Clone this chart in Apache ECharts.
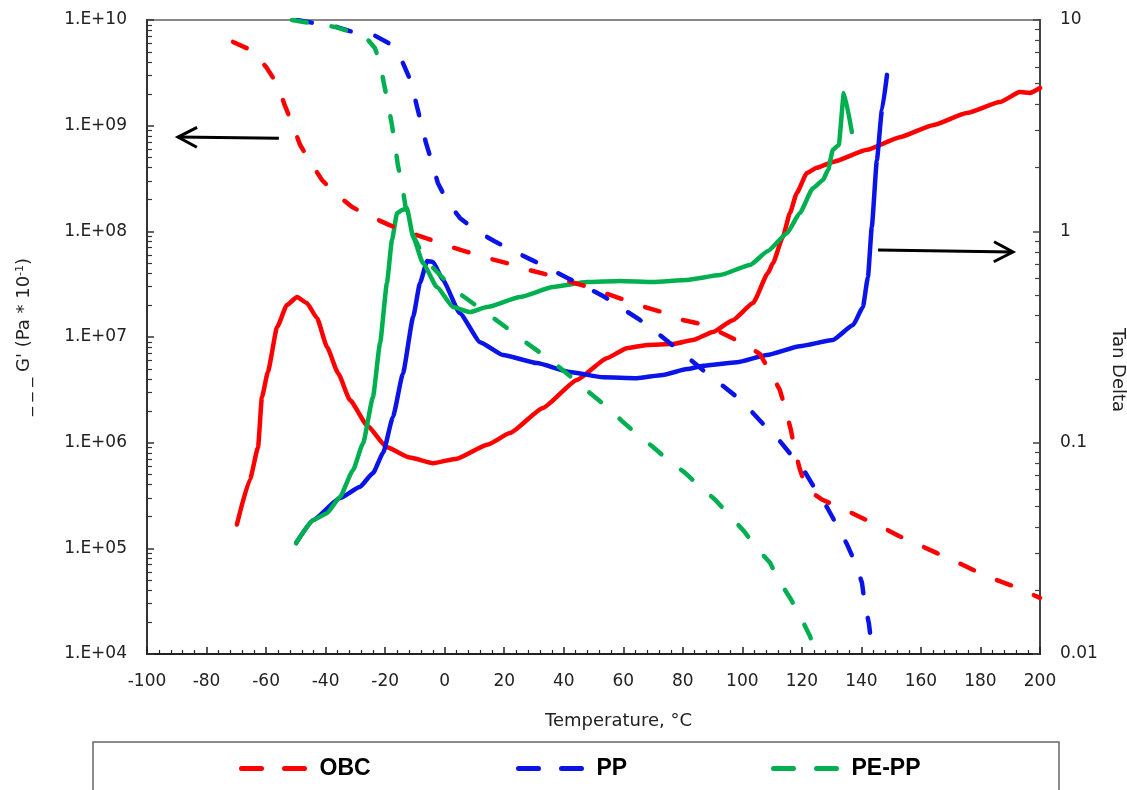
<!DOCTYPE html>
<html>
<head>
<meta charset="utf-8">
<script src="https://cdn.jsdelivr.net/npm/echarts@6/dist/echarts.min.js"></script>
<style>
  html, body { margin: 0; padding: 0; background: #fff; }
  #chart { width: 1127px; height: 790px; }
</style>
</head>
<body>
<div id="chart"></div>
<script>
// Storage modulus G' (left axis, dashed) and tan delta (right axis, solid) vs temperature

// OBC
const obcTempG = [-71.1,-64.4,-59.7,-56.3,-53.6,-51.3,-48.6,-45.3,-41.2,-36.9,-31.1,-25.4,-18.7,-12.7,-5.6,0.8,7.5,14.2,20.9,27.0,34.4,41.1,47.8,53.8,60.6,67.3,74.0,80.0,87.4,93.1,99.9,105.9,109.9,112.6,114.6,116.3,117.7,119.4,121.7,126.7,133.8,140.2,146.9,152.6,159.3,165.4,172.1,177.8,184.8,190.9,200];
const obcModulus = [6.2e9,5.1e9,3.5e9,2.48e9,1.53e9,1.06e9,6.6e8,4.6e8,3.06e8,2.3e8,1.7e8,1.4e8,1.15e8,9.9e7,8.5e7,7.3e7,6.4e7,5.6e7,5.0e7,4.4e7,3.9e7,3.4e7,3.0e7,2.6e7,2.24e7,1.92e7,1.69e7,1.45e7,1.3e7,1.09e7,8.8e6,6.9e6,4.4e6,3.15e6,2.04e6,1.32e6,8.4e5,5.5e5,3.6e5,2.9e5,2.36e5,1.94e5,1.59e5,1.31e5,1.08e5,9.0e4,7.4e4,6.2e4,5.1e4,4.4e4,3.4e4];
const obcTempTan = [-69.8,-65.4,-62.7,-61.4,-59.4,-56.3,-53.0,-49.6,-46.3,-42.9,-39.5,-35.8,-31.8,-26.1,-19.4,-11.7,-3.9,4.1,14.5,21.9,33.0,44.4,54.5,61.2,68.0,76.7,83.4,90.1,96.8,103.6,108.6,110.3,113.6,116.0,118.3,121.7,125.0,130.4,141.9,152.9,164.0,175.4,186.5,193.2,196.6,200];
const obcTanDelta = [0.041,0.067,0.095,0.164,0.216,0.352,0.448,0.489,0.458,0.389,0.283,0.213,0.159,0.121,0.095,0.085,0.080,0.084,0.098,0.111,0.146,0.198,0.251,0.280,0.290,0.293,0.306,0.334,0.380,0.458,0.635,0.708,0.94,1.22,1.52,1.89,2.0,2.13,2.43,2.79,3.18,3.63,4.09,4.56,4.52,4.77];

// PP
const ppTempG = [-49.6,-44.2,-37.5,-30.8,-23.4,-17.7,-14.0,-11.3,-9.6,-8.0,-6.3,-4.3,-2.3,0.8,5.1,10.2,16.6,22.3,29.0,34.7,41.4,47.1,53.8,58.9,65.6,70.6,77.4,81.4,87.4,92.1,98.2,102.6,107.9,112.3,117.0,121.0,125.1,128.4,132.1,135.1,138.2,140.2,141.2,142.5,143.2,143.9];
const ppModulus = [1.0e10,9.4e9,8.8e9,7.7e9,7.1e9,5.8e9,3.9e9,2.6e9,1.64e9,1.08e9,6.9e8,4.5e8,2.87e8,1.94e8,1.34e8,1.03e8,8.1e7,6.7e7,5.4e7,4.5e7,3.6e7,3.0e7,2.39e7,1.92e7,1.45e7,1.14e7,8.0e6,6.5e6,4.7e6,3.7e6,2.7e6,2.04e6,1.41e6,1.06e6,7.3e5,5.3e5,3.4e5,2.46e5,1.59e5,1.1e5,7.0e4,4.7e4,2.9e4,1.96e4,1.36e4,1.0e4];
const ppTempTan = [-49.9,-44.2,-35.2,-28.5,-24.1,-20.7,-17.4,-14.0,-10.6,-8.3,-5.9,-3.9,-0.6,5.1,11.9,19.6,31.0,42.1,53.2,64.6,73.3,81.4,86.8,98.2,108.3,119.3,130.4,137.2,140.5,142.2,143.5,145.2,146.9,148.6];
const ppTanDelta = [0.0335,0.043,0.0547,0.0617,0.0718,0.0893,0.132,0.213,0.393,0.569,0.723,0.716,0.589,0.41,0.299,0.26,0.238,0.216,0.204,0.202,0.209,0.223,0.231,0.24,0.26,0.286,0.306,0.36,0.438,0.608,1.05,2.17,3.75,5.5];

// PE-PP
const pepTempG = [-51.3,-43.6,-36.8,-30.1,-25.8,-23.4,-21.7,-20.4,-19.0,-17.7,-16.7,-15.7,-14.3,-13.0,-10.6,-6.6,0.8,4.8,10.8,15.9,21.9,27.0,33.0,37.7,43.8,48.8,54.5,59.6,64.9,70.0,75.7,80.7,86.4,90.8,96.2,100.5,104.9,109.3,112.6,116.3,119.7,122.7,124.4];
const pepModulus = [1.0e10,9.2e9,8.6e9,7.5e9,6.5e9,5.4e9,3.9e9,2.5e9,1.6e9,1.01e9,6.6e8,4.2e8,2.75e8,1.6e8,9.2e7,5.4e7,3.3e7,2.6e7,1.96e7,1.55e7,1.16e7,9.0e6,6.8e6,5.4e6,3.9e6,2.95e6,2.18e6,1.6e6,1.18e6,9.1e5,6.6e5,5.2e5,3.7e5,2.9e5,1.98e5,1.46e5,1.0e5,7.3e4,4.8e4,3.3e4,2.2e4,1.48e4,1.09e4];
const pepTempTan = [-49.9,-44.2,-39.5,-35.2,-30.8,-27.4,-24.1,-21.7,-19.4,-17.7,-16.0,-14.3,-12.7,-10.6,-7.3,-2.6,2.8,8.5,14.2,25.3,36.4,47.8,58.9,70.0,81.4,92.5,102.6,108.6,115.0,119.3,123.7,127.1,128.8,130.4,132.4,134.1,136.8];
const pepTanDelta = [0.0335,0.043,0.0464,0.0553,0.0741,0.0995,0.164,0.296,0.569,0.91,1.22,1.26,1.29,0.94,0.708,0.545,0.438,0.415,0.438,0.489,0.545,0.575,0.582,0.575,0.589,0.621,0.693,0.807,0.98,1.22,1.6,1.75,1.95,2.43,2.56,4.52,2.95];

// Axis tick labels
const modulusTickLabels = ['1.E+04','1.E+05','1.E+06','1.E+07','1.E+08','1.E+09','1.E+10'];
const tanTickLabels = ['0.01','0.1','1','10'];

// Annotation arrows: [tail, tip] in data units
const modulusArrow = [[-55.7, 7.6e8], [-89.6, 7.8e8]];
const tanArrow = [[145.6, 0.816], [190.9, 0.798]];

const RED = '#FF0000', BLUE = '#0A14E8', GREEN = '#00B050';
const FONT = 'DejaVu Sans';

// log-axis minor tick positions (2..9 within each decade)
function minorTicks(lo, hi) {
  const out = [];
  for (let e = lo; e < hi; e++) {
    for (let m = 2; m <= 9; m++) out.push(m * Math.pow(10, e));
  }
  return out;
}
function pairs(t, v) { return t.map((x, i) => [x, v[i]]); }

const dashed = (color) => ({ color, width: 4.5, type: [15, 25], cap: 'round', join: 'round' });
const solid = (color) => ({ color, width: 4.5, cap: 'round', join: 'round' });

function modulusSeries(name, t, v, color) {
  return { name, type: 'line', xAxisIndex: 0, yAxisIndex: 0, data: pairs(t, v), symbol: 'none',
    smooth: false, lineStyle: dashed(color), itemStyle: { color }, z: 3 };
}
function tanSeries(name, t, v, color) {
  return { name, type: 'line', xAxisIndex: 0, yAxisIndex: 2, data: pairs(t, v), symbol: 'none',
    smooth: 0.15, smoothMonotone: 'x', lineStyle: solid(color), itemStyle: { color }, z: 2 };
}

function legendAt(name, left) {
  return {
    data: [name], left, top: 757, orient: 'horizontal', padding: 0,
    itemWidth: 65, itemHeight: 14, itemGap: 0,
    itemStyle: { opacity: 0 },
    lineStyle: { type: [20, 23], cap: 'round', width: 5 },
    textStyle: { fontFamily: 'Liberation Sans', fontWeight: 'bold', fontSize: 23, color: '#000', padding: [0, 0, 0, 8] }
  };
}

const labelStyle = { fontFamily: FONT, fontSize: 17, color: '#222' };

const chart = echarts.init(document.getElementById('chart'), null, { renderer: 'canvas' });

chart.setOption({
  animation: false,
  backgroundColor: '#fff',
  grid: { left: 147, right: 87, top: 20, bottom: 136, containLabel: false, outerBoundsMode: 'none',
    show: true, borderColor: '#888', borderWidth: 2, backgroundColor: 'transparent' },
  xAxis: {
    type: 'value', min: -100, max: 200, interval: 20,
    name: 'Temperature, °C', nameLocation: 'middle', nameGap: 58,
    nameTextStyle: { fontFamily: FONT, fontSize: 18, color: '#222', padding: [0, 0, 0, 50] },
    axisLine: { onZero: false, lineStyle: { color: '#222', width: 2 } },
    axisTick: { inside: true, length: 7, lineStyle: { color: '#222', width: 1.5 } },
    minorTick: { show: true, splitNumber: 5, length: 4, lineStyle: { color: '#222', width: 1.2 } },
    axisLabel: Object.assign({ margin: 19 }, labelStyle),
    splitLine: { show: false }
  },
  yAxis: [
    {
      type: 'log', logBase: 10, min: 1e4, max: 1e10, position: 'left',
      name: "_ _ _ G' (Pa * 10{sup|-1})", nameLocation: 'middle', nameGap: 113,
      nameTextStyle: { fontFamily: FONT, fontSize: 18, color: '#222',
        rich: { sup: { fontFamily: FONT, fontSize: 11, color: '#222', verticalAlign: 'top', padding: [0, 0, 8, 0] } } },
      axisLine: { show: true, onZero: false, lineStyle: { color: '#333', width: 2 } },
      axisTick: { inside: true, length: 7, lineStyle: { color: '#333', width: 1.5 } },
      axisLabel: Object.assign({ margin: 20, formatter: (v) => modulusTickLabels[Math.round(Math.log10(v)) - 4] }, labelStyle),
      splitLine: { show: false }
    },
    {
      type: 'log', logBase: 10, min: 1e4, max: 1e10, position: 'left',
      axisLine: { show: false, onZero: false },
      axisTick: { show: true, inside: true, length: 5, customValues: minorTicks(4, 10), lineStyle: { color: '#333', width: 1.2 } },
      axisLabel: { show: false },
      splitLine: { show: false }
    },
    {
      type: 'log', logBase: 10, min: 0.01, max: 10, position: 'right',
      name: 'Tan Delta', nameLocation: 'middle', nameGap: 48, nameRotate: -90,
      nameTextStyle: { fontFamily: FONT, fontSize: 18, color: '#222', padding: [14, 0, 0, 66] },
      axisLine: { show: true, onZero: false, lineStyle: { color: '#444', width: 2 } },
      axisTick: { inside: true, length: 7, lineStyle: { color: '#444', width: 1.5 } },
      axisLabel: Object.assign({ margin: 20, formatter: (v) => tanTickLabels[Math.round(Math.log10(v)) + 2] }, labelStyle),
      splitLine: { show: false }
    },
    {
      type: 'log', logBase: 10, min: 0.01, max: 10, position: 'right',
      axisLine: { show: false, onZero: false },
      axisTick: { show: true, inside: true, length: 5, customValues: minorTicks(-2, 1), lineStyle: { color: '#444', width: 1.2 } },
      axisLabel: { show: false },
      splitLine: { show: false }
    }
  ],
  legend: [legendAt('OBC', 239), legendAt('PP', 516), legendAt('PE-PP', 771)],
  series: [
    tanSeries('OBC', obcTempTan, obcTanDelta, RED),
    tanSeries('PP', ppTempTan, ppTanDelta, BLUE),
    tanSeries('PE-PP', pepTempTan, pepTanDelta, GREEN),
    modulusSeries('OBC', obcTempG, obcModulus, RED),
    modulusSeries('PP', ppTempG, ppModulus, BLUE),
    modulusSeries('PE-PP', pepTempG, pepModulus, GREEN)
  ]
});

// Legend frame and annotation arrows
function arrowShapes(tail, tip, yAxisIndex) {
  const a = chart.convertToPixel({ xAxisIndex: 0, yAxisIndex }, tail);
  const b = chart.convertToPixel({ xAxisIndex: 0, yAxisIndex }, tip);
  const dx = b[0] - a[0], dy = b[1] - a[1];
  const len = Math.hypot(dx, dy), ux = dx / len, uy = dy / len;
  const back = 19, spread = 10;
  const p1 = [b[0] - ux * back - uy * spread, b[1] - uy * back + ux * spread];
  const p2 = [b[0] - ux * back + uy * spread, b[1] - uy * back - ux * spread];
  const st = { stroke: '#000', lineWidth: 3, fill: null, lineCap: 'butt', lineJoin: 'miter' };
  return [
    { type: 'polyline', shape: { points: [a, b] }, style: st, z: 10 },
    { type: 'polyline', shape: { points: [p1, b, p2] }, style: st, z: 10 }
  ];
}

chart.setOption({
  graphic: [
    { type: 'rect', shape: { x: 93, y: 742, width: 966, height: 80 },
      style: { fill: null, stroke: '#666', lineWidth: 1.5 }, z: 0, silent: true }
  ].concat(arrowShapes(modulusArrow[0], modulusArrow[1], 0), arrowShapes(tanArrow[0], tanArrow[1], 2))
});
</script>
</body>
</html>
